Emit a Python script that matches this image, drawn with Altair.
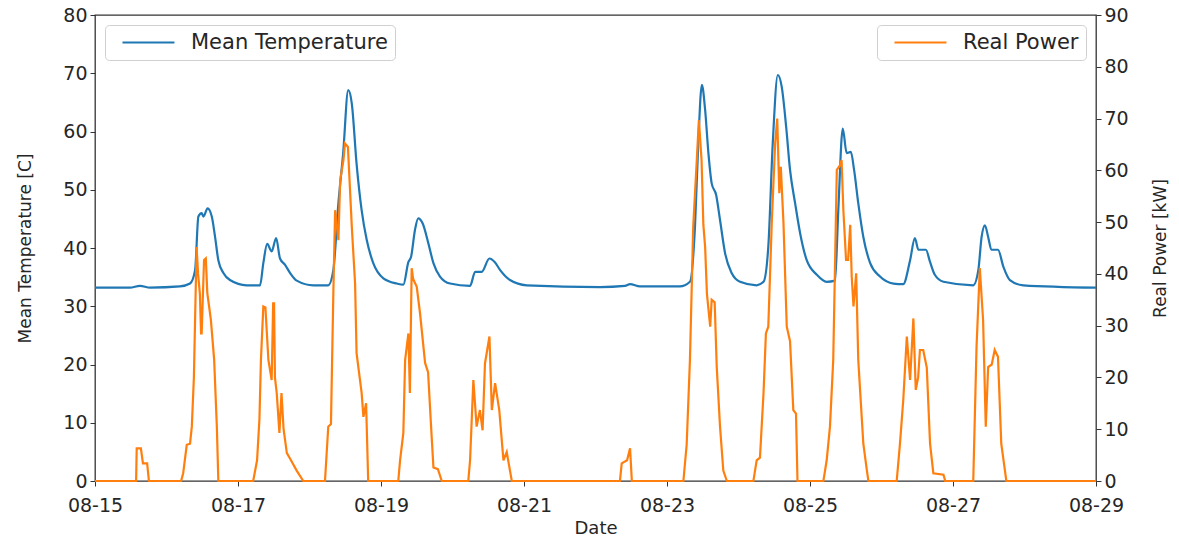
import altair as alt
import pandas as pd

# Hours since 2018-08-15 00:00 and readings
temp_hours = [0, 11.7, 15.1, 18.5, 28.5, 31.9, 33.6, 34.7, 35.8, 36.4, 37.8, 39.2, 40.3, 41.4, 43.1, 45.3, 50.9,
              55.4, 56.5, 57.8, 59.3, 60.8, 62.1, 63.8, 65.5, 67.7, 73.3, 78.3,
              80.0, 81.7, 83.3, 85.0, 86.2, 87.8, 89.5, 91.2, 93.4, 96.8, 101.3, 103.5,
              105.2, 106.1, 107.4, 108.5, 110.0, 111.9, 113.6, 115.8, 119.2, 125.9,
              127.6, 129.8, 132.4, 134.3, 136.0, 139.3, 144.9, 169.5, 177.9, 179.6, 182.9, 196.3,
              199.7, 201.4, 202.5, 203.7, 204.8, 205.9, 207.0, 208.5, 209.8, 211.5, 213.7, 216.5, 222.1,
              224.4, 226.0, 227.5, 229.2, 230.5, 232.0, 233.3, 235.0, 236.7, 238.9, 242.3, 245.6, 248.4,
              249.5, 251.0, 252.3, 253.7, 254.8, 256.2, 257.9, 260.2, 263.5, 268.0, 271.3,
              273.6, 275.2, 276.4, 278.9, 280.3, 281.9, 284.8, 294.8,
              296.5, 297.6, 298.7, 299.8, 300.9, 303.1, 304.9, 307.1, 311.6, 336.0]
temp_values = [33.2, 33.2, 33.5, 33.2, 33.4, 33.9, 36.2, 45.4, 46.0, 45.4, 46.8, 45.4, 41.9, 37.9, 35.7, 34.5, 33.6,
               33.6, 37.4, 40.7, 39.4, 41.7, 38.2, 37.1, 35.7, 34.4, 33.6, 33.6,
               36.2, 47.7, 56.3, 67.1, 64.8, 54.5, 46.5, 41.4, 37.4, 34.8, 33.9, 33.7,
               37.6, 38.5, 43.1, 45.1, 44.2, 40.8, 37.4, 35.1, 33.9, 33.5,
               35.9, 35.9, 38.2, 37.5, 36.2, 34.5, 33.6, 33.3, 33.5, 33.8, 33.4, 33.4,
               34.2, 43.7, 58.0, 68.0, 63.7, 56.3, 51.1, 49.1, 44.8, 39.1, 35.7, 34.2, 33.6,
               34.2, 40.2, 58.0, 69.7, 67.7, 60.8, 53.4, 47.7, 42.5, 37.9, 35.4, 34.2, 34.4,
               46.5, 60.5, 56.3, 56.5, 53.4, 47.7, 41.9, 37.4, 35.1, 33.9, 33.8,
               37.9, 41.7, 39.7, 39.7, 37.6, 35.4, 34.2, 33.6,
               36.2, 41.9, 43.9, 41.9, 39.7, 39.7, 36.8, 34.5, 33.6, 33.2]

power_hours = [0, 13.8, 14.0, 15.4, 16.1, 17.5, 18.1,
               28.9, 29.6, 30.8, 31.9, 32.5, 33.2, 34.1, 34.6, 35.2, 35.6, 35.8, 36.6, 37.2, 37.7, 38.9, 40.0, 40.9, 41.4,
               53.1, 54.4, 55.2, 55.7, 56.5, 57.2, 58.2, 59.3, 59.8, 60.1, 60.4, 61.0, 61.9, 62.6, 63.3, 64.4, 65.5, 67.7, 69.9,
               77.2, 78.3, 79.2, 80.0, 80.6, 81.7, 82.3, 83.4, 83.9, 84.9, 86.2, 87.3, 87.8, 89.5, 90.1, 91.0, 91.7,
               101.8, 102.4, 103.5, 104.1, 105.2, 105.7, 106.3, 106.8, 108.0, 109.1, 110.8, 111.8, 113.0, 113.6, 115.1, 116.4,
               125.3, 125.9, 127.0, 128.1, 129.2, 130.1, 130.9, 132.4, 133.2, 134.3, 135.7, 137.1, 138.2, 139.9,
               176.2, 176.8, 178.6, 179.6, 180.2,
               197.5, 198.6, 199.7, 200.8, 202.0, 202.7, 203.6, 204.2, 204.8, 205.4, 206.5, 207.0, 208.0, 208.7, 209.8, 210.9, 212.1,
               221.0, 222.1, 223.2, 224.4, 225.2, 226.0, 227.2, 228.3, 229.0, 229.7, 230.2, 231.1, 232.2, 233.3, 234.4, 235.3, 235.8,
               244.5, 245.6, 246.7, 247.8, 249.0, 250.1, 250.6, 251.2, 252.1, 252.8, 253.5, 254.0, 254.6, 255.5, 256.2, 257.9, 259.1, 259.6,
               269.1, 270.2, 271.3, 272.5, 273.6, 274.7, 275.5, 276.3, 276.9, 278.0, 279.2, 280.3, 281.4, 284.8, 285.4,
               294.8, 295.9, 297.0, 298.1, 299.0, 299.8, 301.0, 302.0, 303.1, 304.2, 305.3, 305.9, 336.0]
power_values = [0, 0, 6.3, 6.3, 3.4, 3.4, 0,
                0, 1.5, 7.0, 7.2, 10.5, 20.1, 45.2, 40.0, 36.2, 28.5, 28.5, 42.7, 43.0, 36.3, 31.1, 23.4, 10.5, 0,
                0, 4.0, 12.0, 23.4, 33.7, 33.5, 23.4, 19.5, 34.3, 34.3, 20.0, 17.0, 9.3, 17.0, 10.0, 5.4, 4.3, 2.0, 0,
                0, 10.5, 11.0, 36.2, 52.3, 46.5, 58.1, 62.0, 65.2, 64.5, 49.1, 38.2, 24.7, 17.0, 12.4, 15.0, 0,
                0, 4.0, 9.3, 23.4, 28.5, 17.0, 41.1, 39.0, 37.5, 32.4, 22.8, 21.0, 8.6, 2.6, 2.3, 0,
                0, 4.0, 19.5, 10.5, 13.7, 9.8, 22.7, 27.9, 13.7, 18.9, 13.7, 4.0, 5.6, 0,
                0, 3.4, 4.0, 6.3, 0,
                0, 7.0, 23.4, 49.1, 62.0, 69.7, 62.0, 49.5, 45.2, 36.2, 29.8, 35.0, 34.5, 22.0, 10.5, 2.0, 0,
                0, 4.0, 4.5, 17.0, 28.5, 29.8, 50.4, 65.2, 70.0, 55.6, 60.7, 49.8, 29.8, 27.0, 13.7, 13.0, 0,
                0, 4.0, 10.5, 23.4, 60.1, 61.0, 62.0, 52.3, 42.7, 42.7, 49.5, 39.5, 33.7, 40.1, 23.4, 7.2, 2.0, 0,
                0, 7.2, 15.6, 27.9, 19.5, 31.4, 17.6, 20.0, 25.3, 25.3, 21.9, 7.2, 1.5, 1.2, 0,
                0, 25.9, 41.1, 31.1, 10.5, 22.0, 22.5, 25.3, 24.0, 7.2, 2.6, 0, 0]

tick_days = [15, 17, 19, 21, 23, 25, 27, 29]

start = pd.Timestamp("2018-08-15 00:00")
temp_df = pd.DataFrame({
    "Date": start + pd.to_timedelta(temp_hours, unit="h"),
    "value": temp_values,
    "series": "Mean Temperature",
})
power_df = pd.DataFrame({
    "Date": start + pd.to_timedelta(power_hours, unit="h"),
    "value": power_values,
    "series": "Real Power",
})

FONT = "DejaVu Sans"
INK = "#262626"

x_enc = alt.X(
    "Date:T",
    scale=alt.Scale(domain=[alt.DateTime(year=2018, month=8, date=15),
                            alt.DateTime(year=2018, month=8, date=29)]),
    axis=alt.Axis(values=[alt.DateTime(year=2018, month=8, date=d) for d in tick_days],
                  format="%m-%d", title="Date", grid=False,
                  labelFontSize=19, titleFontSize=18, labelFont=FONT, titleFont=FONT,
                  tickSize=5, labelPadding=10, titlePadding=4, labelFlush=False,
                  domain=False, tickColor="#333", labelColor=INK, titleColor=INK,
                  titleFontWeight="normal"),
)

def legend(orient):
    return alt.Legend(title=None, orient=orient, offset=10, padding=7,
                      strokeColor="#d0d0d0", cornerRadius=4, fillColor="white",
                      symbolType="M0,0H6", symbolSize=300, symbolStrokeWidth=2,
                      labelFontSize=21, labelFont=FONT, labelColor=INK, labelOffset=58,
                      labelLimit=400)

temp_line = alt.Chart(temp_df).mark_line(strokeWidth=2.2, interpolate="monotone").encode(
    x=x_enc,
    y=alt.Y("value:Q", scale=alt.Scale(domain=[0, 80], nice=False),
            axis=alt.Axis(title="Mean Temperature [C]", orient="left", values=list(range(0, 81, 10)),
                          grid=False, labelFontSize=19, titleFontSize=17, labelFont=FONT,
                          titleFont=FONT, tickSize=5, labelPadding=3, titlePadding=28,
                          domain=False, tickColor="#333", labelColor=INK, titleColor=INK,
                          titleFontWeight="normal")),
    color=alt.Color("series:N", scale=alt.Scale(domain=["Mean Temperature"], range=["#1f77b4"]),
                    legend=legend("top-left")),
)

power_line = alt.Chart(power_df).mark_line(strokeWidth=2.2).encode(
    x=x_enc,
    y=alt.Y("value:Q", scale=alt.Scale(domain=[0, 90], nice=False),
            axis=alt.Axis(title="Real Power [kW]", orient="right", values=list(range(0, 91, 10)),
                          grid=False, labelFontSize=19, titleFontSize=17, labelFont=FONT,
                          titleFont=FONT, tickSize=5, labelPadding=3, titlePadding=24,
                          titleAngle=270, titleBaseline="top",
                          domain=False, tickColor="#333", labelColor=INK, titleColor=INK,
                          titleFontWeight="normal")),
    color=alt.Color("series:N", scale=alt.Scale(domain=["Real Power"], range=["#ff7f0e"]),
                    legend=legend("top-right")),
)

chart = alt.layer(temp_line, power_line).resolve_scale(
    y="independent", color="independent"
).properties(
    width=1001, height=466,
    background="white",
    autosize=alt.AutoSizeParams(type="none"),
    padding={"left": 95, "top": 15, "right": 83, "bottom": 59},
).configure_view(stroke="#333", strokeWidth=1.3)

chart.save("out.html", embed_options={"renderer": "svg", "actions": False})
